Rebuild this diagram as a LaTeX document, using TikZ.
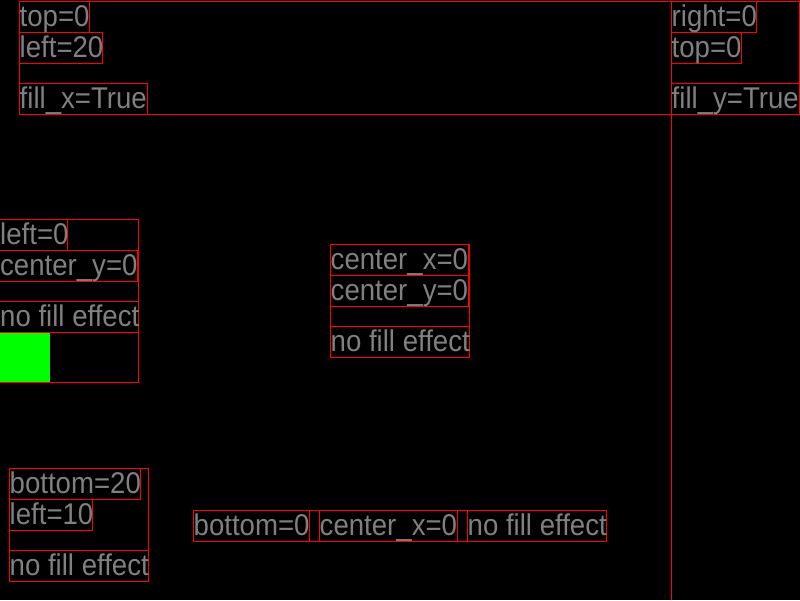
\documentclass[tikz,border=0pt]{standalone}
\usepackage{fontspec}
\newfontfamily\etiqfont[FakeStretch=0.92]{Liberation Sans}
\tikzset{
  caja/.style={draw=red, line width=1pt},
  etiqueta/.style={anchor=base west, inner sep=0pt, text=gray,
    font={\etiqfont\fontsize{30}{30}\selectfont}}
}
\begin{document}
\begin{tikzpicture}[x=1pt, y=-1pt]
        % Fondo
        \fill[black] (0,0) rectangle (800,600);
        \useasboundingbox (0,0) rectangle (800,600);

        % Columna derecha
        \draw[caja] (671.5,0.5) -- (671.5,600);

        % Arriba a la izquierda
        \draw[caja] (19.5,1.5) rectangle (671.5,114.5);
        \draw[caja] (19.5,1.5) rectangle (89.5,32.5);
        \draw[caja] (19.5,32.5) rectangle (102.5,63.5);
        \draw[caja] (19.5,83.5) rectangle (147.5,114.5);
        \node[etiqueta] (tlTop) at (19.5,26.5) {top=0};
        \node[etiqueta] (tlLeft) at (19.5,57.5) {left=20};
        \node[etiqueta] (tlFill) at (19.5,108.5) {fill\_x=True};

        % Arriba a la derecha
        \draw[caja] (671.5,1.5) rectangle (799.5,114.5);
        \draw[caja] (671.5,1.5) rectangle (756.5,32.5);
        \draw[caja] (671.5,32.5) rectangle (741.5,63.5);
        \draw[caja] (671.5,83.5) rectangle (799.5,114.5);
        \node[etiqueta] (trRight) at (671.5,26.5) {right=0};
        \node[etiqueta] (trTop) at (671.5,57.5) {top=0};
        \node[etiqueta] (trFill) at (671.5,108.5) {fill\_y=True};

        % Centro a la izquierda
        \fill[green] (0,332.5) rectangle (50,382.5);
        \draw[caja] (-1,219.5) rectangle (138.5,382.5);
        \draw[caja] (-1,219.5) rectangle (67.5,250.5);
        \draw[caja] (-1,250.5) rectangle (137.5,281.5);
        \draw[caja] (-1,301.5) rectangle (138.5,332.5);
        \node[etiqueta] (mlLeft) at (0,244.5) {left=0};
        \node[etiqueta] (mlCenter) at (0,275.5) {center\_y=0};
        \node[etiqueta] (mlFill) at (0,326.5) {no fill effect};

        % Centro
        \draw[caja] (330.5,244.5) rectangle (469.5,357.5);
        \draw[caja] (330.5,244.5) rectangle (468.5,275.5);
        \draw[caja] (330.5,275.5) rectangle (468.5,306.5);
        \draw[caja] (330.5,326.5) rectangle (469.5,357.5);
        \node[etiqueta] (ccX) at (330.5,269.5) {center\_x=0};
        \node[etiqueta] (ccY) at (330.5,300.5) {center\_y=0};
        \node[etiqueta] (ccFill) at (330.5,351.5) {no fill effect};

        % Abajo a la izquierda
        \draw[caja] (9.5,468.5) rectangle (148.5,581.5);
        \draw[caja] (9.5,468.5) rectangle (140.5,499.5);
        \draw[caja] (9.5,499.5) rectangle (92.5,530.5);
        \draw[caja] (9.5,550.5) rectangle (148.5,581.5);
        \node[etiqueta] (blBottom) at (9.5,493.5) {bottom=20};
        \node[etiqueta] (blLeft) at (9.5,524.5) {left=10};
        \node[etiqueta] (blFill) at (9.5,575.5) {no fill effect};

        % Abajo al centro
        \draw[caja] (193.5,510.5) rectangle (606.5,541.5);
        \draw[caja] (193.5,510.5) rectangle (309.5,541.5);
        \draw[caja] (319.5,510.5) rectangle (457.5,541.5);
        \draw[caja] (467.5,510.5) rectangle (606.5,541.5);
        \node[etiqueta] (bcBottom) at (193.5,535.5) {bottom=0};
        \node[etiqueta] (bcCenter) at (319.5,535.5) {center\_x=0};
        \node[etiqueta] (bcFill) at (467.5,535.5) {no fill effect};
    \end{tikzpicture}
\end{document}
